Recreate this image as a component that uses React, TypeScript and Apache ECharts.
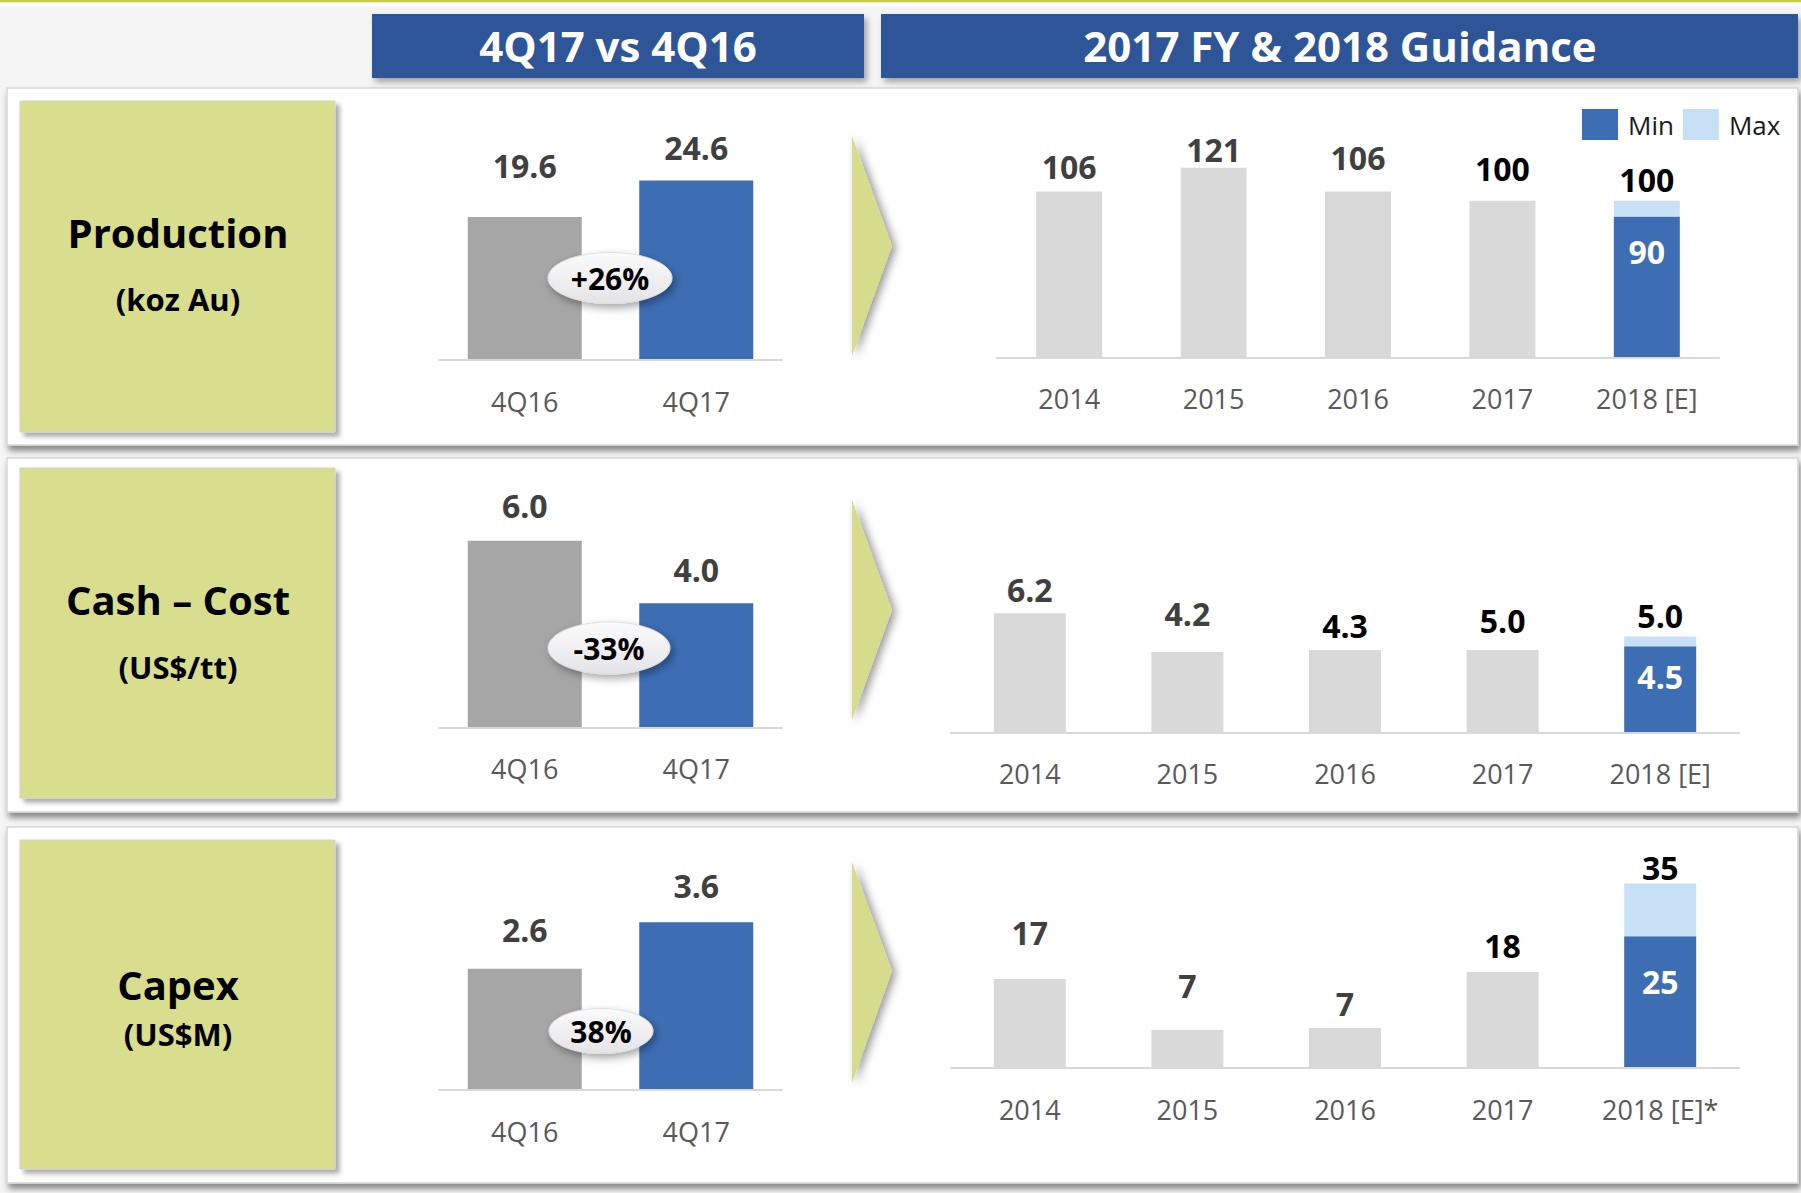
import React, { useEffect, useRef } from "react";
import * as echarts from "echarts";

// ---------- data ----------
const quarterCategories = ["4Q16", "4Q17"];
const yearCategories = ["2014", "2015", "2016", "2017", "2018 [E]"];
const capexYearCategories = ["2014", "2015", "2016", "2017", "2018 [E]*"];

const productionQuarter = [19.6, 24.6];
const cashCostQuarter = [6.0, 4.0];
const capexQuarter = [2.6, 3.6];
const quarterChangeLabels = ["+26%", "-33%", "38%"];

const productionActual = [106, 121, 106, 100];
const productionActualLabels = ["106", "121", "106", "100"];
const productionGuidance = [90, 100]; // min, max

const cashCostActual = [6.2, 4.2, 4.3, 4.3]; // heights as drawn
const cashCostActualLabels = ["6.2", "4.2", "4.3", "5.0"];
const cashCostGuidance = [4.5, 5.0];

const capexActual = [16.9, 7.2, 7.6, 18.2]; // heights as drawn
const capexActualLabels = ["17", "7", "7", "18"];
const capexGuidance = [25, 35];

const panelTitles = ["Production", "Cash \u2013 Cost", "Capex"];
const panelUnits = ["(koz Au)", "(US$/tt)", "(US$M)"];
const headerTitles = ["4Q17 vs 4Q16", "2017 FY & 2018 Guidance"];

// ---------- style / layout ----------
const FONT = "'Open Sans', 'Noto Sans', sans-serif";
const GRAY = "#a6a6a6";
const BLUE = "#3d6eb4";
const LIGHT = "#d9d9d9";
const MAXBLUE = "#c8e0f6";
const LIME = "#d9de8f";
const HEADER = "#2f5597";

const quarterGaps = [
  [35, 17],
  [19, 18],
  [23, 21],
];
const yearGaps = [
  [9, 2, 18, 16, 5],
  [8, 22, 9, 14, 5],
  [30, 29, 8, 11, 0],
];
const yearLabelColors = ["#404040", "#404040", "#404040", "#000000", "#000000"];
const capexLabelColors = ["#404040", "#404040", "#404040", "#000000", "#000000"];
const cashLabelColors = ["#404040", "#404040", "#000000", "#000000", "#000000"];
const minInsideGaps = [19, 14, 29];

const leftGrids = [
  { left: 439, width: 343, top: 141, height: 219, max: 30, margin: 28 },
  { left: 439, width: 343, top: 509.6, height: 218.4, max: 7, margin: 27 },
  { left: 439, width: 343, top: 857, height: 233, max: 5, margin: 28 },
];
const rightGrids = [
  { left: 997, width: 722, top: 138, height: 220, max: 140, margin: 27, barWidth: 66 },
  { left: 951, width: 788, top: 578.6, height: 154.4, max: 8, margin: 27, barWidth: 72 },
  { left: 951, width: 788, top: 857.2, height: 210.8, max: 40, margin: 28, barWidth: 72 },
];

const panels = [
  { y: 88, h: 357, boxY: 101, boxH: 331, titleY: 232, unitY: 299, arrow: [136, 246, 356], bubble: [610, 278, 62, 25.5] },
  { y: 458, h: 354, boxY: 468, boxH: 330, titleY: 599, unitY: 667, arrow: [500, 610, 720], bubble: [609, 648, 61, 26] },
  { y: 827, h: 356, boxY: 840, boxH: 329, titleY: 984, unitY: 1034, arrow: [862, 971, 1083], bubble: [601, 1031, 52, 22.5] },
];

function App() {
  const ref = useRef<HTMLDivElement>(null);

  useEffect(() => {
    document.body.style.margin = "0";
    if (!ref.current) return;
    const chart = echarts.init(ref.current, undefined, { renderer: "svg" });

    const quarterData = [productionQuarter, cashCostQuarter, capexQuarter];
    const actualData = [productionActual, cashCostActual, capexActual];
    const actualLabels = [productionActualLabels, cashCostActualLabels, capexActualLabels];
    const guidance = [productionGuidance, cashCostGuidance, capexGuidance];
    const guidanceDecimals = [0, 1, 0];
    const labelColors = [yearLabelColors, cashLabelColors, capexLabelColors];
    const cats = [yearCategories, yearCategories, capexYearCategories];

    const grid: any[] = [];
    const xAxis: any[] = [];
    const yAxis: any[] = [];
    const series: any[] = [];

    const axisLabelBase = { fontSize: 27, color: "#595959", fontFamily: FONT, lineHeight: 27 };
    const valueLabelBase = { fontSize: 32, fontWeight: "bold", fontFamily: FONT, lineHeight: 32 };

    leftGrids.forEach((g, i) => {
      const idx = grid.length;
      grid.push({ left: g.left, top: g.top, width: g.width, height: g.height });
      xAxis.push({
        type: "category", gridIndex: idx, data: quarterCategories,
        axisLine: { lineStyle: { color: LIGHT, width: 2 } }, axisTick: { show: false },
        axisLabel: { ...axisLabelBase, margin: g.margin }, z: 5,
      });
      yAxis.push({ type: "value", gridIndex: idx, min: 0, max: g.max, show: false, splitLine: { show: false } });
      series.push({
        type: "bar", name: "q" + i, xAxisIndex: idx, yAxisIndex: idx, barWidth: 114, silent: true,
        data: quarterData[i].map((v, j) => ({
          value: v,
          itemStyle: { color: j === 0 ? GRAY : BLUE },
          label: { distance: quarterGaps[i][j] },
        })),
        label: { show: true, position: "top", color: "#404040", ...valueLabelBase, formatter: (p: any) => Number(p.value).toFixed(1) },
      });
    });

    rightGrids.forEach((g, i) => {
      const idx = grid.length;
      grid.push({ left: g.left, top: g.top, width: g.width, height: g.height });
      xAxis.push({
        type: "category", gridIndex: idx, data: cats[i],
        axisLine: { lineStyle: { color: LIGHT, width: 2 } }, axisTick: { show: false },
        axisLabel: { ...axisLabelBase, margin: g.margin }, z: 5,
      });
      yAxis.push({ type: "value", gridIndex: idx, min: 0, max: g.max, show: false, splitLine: { show: false } });
      const n = actualData[i].length;
      const dash = Array(n).fill("-");
      const [gMin, gMax] = guidance[i];
      const dec = guidanceDecimals[i];
      series.push({
        type: "bar", name: "Actual", stack: "s" + i, xAxisIndex: idx, yAxisIndex: idx, barWidth: g.barWidth, silent: true,
        itemStyle: { color: LIGHT },
        data: [
          ...actualData[i].map((v, j) => ({
            value: v,
            label: { distance: yearGaps[i][j], color: labelColors[i][j] },
          })),
          "-",
        ],
        label: { show: true, position: "top", ...valueLabelBase, formatter: (p: any) => actualLabels[i][p.dataIndex] },
      });
      series.push({
        type: "bar", name: "Min", stack: "s" + i, xAxisIndex: idx, yAxisIndex: idx, barWidth: g.barWidth, silent: true,
        itemStyle: { color: BLUE },
        data: [...dash, gMin],
        label: { show: true, position: "insideTop", distance: minInsideGaps[i], color: "#ffffff", ...valueLabelBase, formatter: () => gMin.toFixed(dec) },
      });
      series.push({
        type: "bar", name: "Max", stack: "s" + i, xAxisIndex: idx, yAxisIndex: idx, barWidth: g.barWidth, silent: true,
        itemStyle: { color: MAXBLUE },
        data: [...dash, Math.round((gMax - gMin) * 100) / 100],
        label: { show: true, position: "top", distance: yearGaps[i][n], color: labelColors[i][n], ...valueLabelBase, formatter: () => gMax.toFixed(dec) },
      });
    });

    const txt = (x: number, y: number, text: string, size: number, color: string, bold = true, z = 2) => ({
      type: "text", x, y, z, silent: true,
      style: {
        text, fill: color, fontSize: size, fontWeight: bold ? "bold" : "normal", fontFamily: FONT,
        textAlign: "center", textVerticalAlign: "middle", align: "center", verticalAlign: "middle",
      },
    });

    const elements: any[] = [
      { type: "rect", z: -10, silent: true, shape: { x: 0, y: 0, width: 1801, height: 1193 }, style: { fill: "#f5f5f5" } },
      { type: "rect", z: -9, silent: true, shape: { x: 0, y: 0, width: 1801, height: 2.5 }, style: { fill: "#c5cd45" } },
      { type: "rect", z: -9, silent: true, shape: { x: 0, y: 2.5, width: 1801, height: 4.5 }, style: { fill: "#ffffff" } },
      {
        type: "rect", z: -8, silent: true, shape: { x: 372, y: 14, width: 492, height: 64 },
        style: { fill: HEADER, shadowBlur: 6, shadowOffsetX: 3, shadowOffsetY: 4, shadowColor: "rgba(0,0,0,0.35)" },
      },
      {
        type: "rect", z: -8, silent: true, shape: { x: 881, y: 14, width: 917, height: 64 },
        style: { fill: HEADER, shadowBlur: 6, shadowOffsetX: 3, shadowOffsetY: 4, shadowColor: "rgba(0,0,0,0.35)" },
      },
      txt(618, 45, headerTitles[0], 42, "#ffffff", true, 3),
      txt(1340, 45, headerTitles[1], 42, "#ffffff", true, 3),
    ];

    panels.forEach((p, i) => {
      elements.push({
        type: "rect", z: -7, silent: true, shape: { x: 7, y: p.y, width: 1791, height: p.h },
        style: { fill: "#ffffff", stroke: "#d6d6d6", lineWidth: 1.5, shadowBlur: 6, shadowOffsetX: 2, shadowOffsetY: 5, shadowColor: "rgba(0,0,0,0.45)" },
      });
      elements.push({
        type: "rect", z: -6, silent: true, shape: { x: 20, y: p.boxY, width: 315, height: p.boxH },
        style: { fill: LIME, stroke: "#d4d4c8", lineWidth: 1, shadowBlur: 5, shadowOffsetX: 4, shadowOffsetY: 4, shadowColor: "rgba(0,0,0,0.35)" },
      });
      elements.push(txt(178, p.titleY, panelTitles[i], 40, "#000000", true, -5));
      elements.push(txt(178, p.unitY, panelUnits[i], 31, "#000000", true, -5));
      const [t, m, b] = p.arrow;
      elements.push({
        type: "polygon", z: -6, silent: true,
        shape: { points: [[852, t], [892, m], [852, b]] },
        style: { fill: "#d6dc8c", shadowBlur: 8, shadowOffsetX: 4, shadowOffsetY: 2, shadowColor: "rgba(0,0,0,0.4)" },
      });
      const [cx, cy, rx, ry] = p.bubble;
      elements.push({
        type: "ellipse", z: 20, silent: true,
        shape: { cx, cy, rx, ry },
        style: {
          fill: new echarts.graphic.LinearGradient(0, 0, 0, 1, [
            { offset: 0, color: "#fbfbfc" },
            { offset: 1, color: "#e4e4e7" },
          ]),
          stroke: "#e0e0e0", lineWidth: 1,
          shadowBlur: 8, shadowOffsetX: 3, shadowOffsetY: 4, shadowColor: "rgba(0,0,0,0.35)",
        },
      });
      elements.push(txt(cx, cy, quarterChangeLabels[i], 30, "#000000", true, 21));
    });

    chart.setOption({
      animation: false,
      graphic: { elements },
      legend: {
        data: ["Min", "Max"], left: 1582, top: 109, padding: 0, itemWidth: 36, itemHeight: 31, itemGap: 9, icon: "rect",
        selectedMode: false,
        textStyle: { fontSize: 26, color: "#1a1a1a", fontFamily: FONT, padding: [2, 0, 0, 5] },
      },
      grid, xAxis, yAxis, series,
    });

    return () => chart.dispose();
  }, []);

  return <div ref={ref} style={{ position: "absolute", left: 0, top: 0, width: 1801, height: 1193 }} />;
}

export default App;
